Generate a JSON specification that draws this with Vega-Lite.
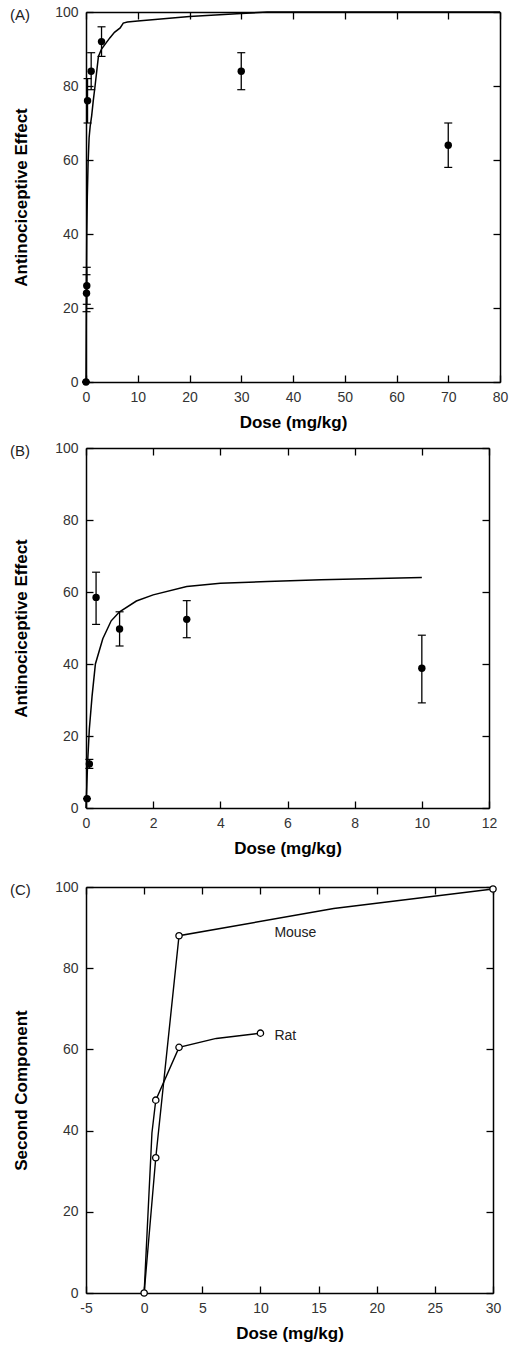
{
  "$schema": "https://vega.github.io/schema/vega-lite/v6.json",
  "background": "white",
  "padding": {"left": 10, "top": 5, "right": 5, "bottom": 5},
  "config": {
    "view": {"stroke": null},
    "axis": {
      "labelFont": "Liberation Sans", "labelFontSize": 14, "labelColor": "#333",
      "titleFont": "Liberation Sans", "titleFontSize": 17, "titleFontWeight": "bold", "titleColor": "black",
      "domainColor": "black", "domainWidth": 1.5, "tickColor": "black", "tickWidth": 1.3, "tickSize": -7,
      "grid": false, "labelPadding": 15, "labelFlush": false, "labelOverlap": false,
      "labelExpr": "'' + datum.value"
    },
    "axisX": {"titlePadding": 10},
    "axisY": {"titlePadding": 24},
    "title": {"font": "Liberation Sans", "fontSize": 15, "fontWeight": "normal", "color": "#222", "anchor": "start", "frame": "group", "orient": "top", "offset": 0, "baseline": "middle", "dx": -76, "dy": 22}
  },
  "datasets": {
    "a_fit": [
      {"dose": 0, "effect": 0}, {"dose": 0.05, "effect": 15}, {"dose": 0.1, "effect": 29}, {"dose": 0.15, "effect": 40},
      {"dose": 0.25, "effect": 50}, {"dose": 0.4, "effect": 59}, {"dose": 0.6, "effect": 66}, {"dose": 0.8, "effect": 69},
      {"dose": 1.1, "effect": 72}, {"dose": 1.4, "effect": 76}, {"dose": 1.75, "effect": 80}, {"dose": 2.4, "effect": 88},
      {"dose": 3, "effect": 90}, {"dose": 4.6, "effect": 93}, {"dose": 5.5, "effect": 94.5}, {"dose": 6.6, "effect": 95.7},
      {"dose": 7.2, "effect": 97}, {"dose": 8, "effect": 97.3}, {"dose": 10, "effect": 97.6}, {"dose": 20, "effect": 98.8},
      {"dose": 30, "effect": 99.6}, {"dose": 35, "effect": 100}, {"dose": 80, "effect": 100}
    ],
    "a_pts": [
      {"dose": 0, "effect": 0, "lo": 0, "hi": 0},
      {"dose": 0.1, "effect": 24, "lo": 19, "hi": 29},
      {"dose": 0.15, "effect": 26, "lo": 21, "hi": 31},
      {"dose": 0.3, "effect": 76, "lo": 70, "hi": 82},
      {"dose": 1, "effect": 84, "lo": 79, "hi": 89},
      {"dose": 3, "effect": 92, "lo": 88, "hi": 96},
      {"dose": 30, "effect": 84, "lo": 79, "hi": 89},
      {"dose": 70, "effect": 64, "lo": 58, "hi": 70}
    ],
    "b_fit": [
      {"dose": 0, "effect": 0}, {"dose": 0.05, "effect": 13}, {"dose": 0.1, "effect": 22}, {"dose": 0.18, "effect": 31},
      {"dose": 0.28, "effect": 40}, {"dose": 0.5, "effect": 47}, {"dose": 0.75, "effect": 52}, {"dose": 1, "effect": 54.5},
      {"dose": 1.5, "effect": 57.5}, {"dose": 2, "effect": 59.2}, {"dose": 3, "effect": 61.5}, {"dose": 4, "effect": 62.4},
      {"dose": 5.4, "effect": 62.9}, {"dose": 7, "effect": 63.4}, {"dose": 10, "effect": 64}
    ],
    "b_pts": [
      {"dose": 0.03, "effect": 2.6, "lo": 2.6, "hi": 2.6},
      {"dose": 0.1, "effect": 12.2, "lo": 11, "hi": 13.5},
      {"dose": 0.3, "effect": 58.5, "lo": 51, "hi": 65.5},
      {"dose": 1, "effect": 49.7, "lo": 45, "hi": 54.5},
      {"dose": 3, "effect": 52.4, "lo": 47.3, "hi": 57.6},
      {"dose": 10, "effect": 38.8, "lo": 29.2, "hi": 48}
    ],
    "c_lines": [
      {"species": "Mouse", "dose": 0, "value": 0}, {"species": "Mouse", "dose": 1, "value": 33.3},
      {"species": "Mouse", "dose": 3, "value": 88}, {"species": "Mouse", "dose": 16.3, "value": 94.7},
      {"species": "Mouse", "dose": 30, "value": 99.5},
      {"species": "Rat", "dose": 0, "value": 0}, {"species": "Rat", "dose": 0.67, "value": 39.4},
      {"species": "Rat", "dose": 1, "value": 47.5}, {"species": "Rat", "dose": 3, "value": 60.5},
      {"species": "Rat", "dose": 6.2, "value": 62.7}, {"species": "Rat", "dose": 10, "value": 64}
    ],
    "c_pts": [
      {"species": "Mouse", "dose": 0, "value": 0}, {"species": "Mouse", "dose": 1, "value": 33.3},
      {"species": "Mouse", "dose": 3, "value": 88}, {"species": "Mouse", "dose": 30, "value": 99.5},
      {"species": "Rat", "dose": 1, "value": 47.5}, {"species": "Rat", "dose": 3, "value": 60.5},
      {"species": "Rat", "dose": 10, "value": 64}
    ],
    "c_labels": [
      {"label": "Mouse", "dose": 11.2, "value": 88.7},
      {"label": "Rat", "dose": 11.2, "value": 63.4}
    ]
  },
  "bounds": "flush",
  "spacing": 66,
  "vconcat": [
    {
      "width": 414, "height": 370,
      "title": {"text": "(A)"},
      "resolve": {"axis": {"x": "independent", "y": "independent"}},
      "layer": [
        {
          "data": {"name": "a_fit"},
          "mark": {"type": "line", "color": "black", "strokeWidth": 1.5},
          "encoding": {
            "x": {"field": "dose", "type": "quantitative", "scale": {"domain": [0, 80], "nice": false},
                  "axis": {"values": [0, 10, 20, 30, 40, 50, 60, 70, 80], "title": "Dose (mg/kg)"}},
            "y": {"field": "effect", "type": "quantitative", "scale": {"domain": [0, 100], "nice": false},
                  "axis": {"values": [0, 20, 40, 60, 80, 100], "title": "Antinociceptive Effect"}}
          }
        },
        {
          "data": {"name": "a_fit"},
          "mark": {"type": "point", "opacity": 0},
          "encoding": {
            "x": {"field": "dose", "type": "quantitative", "axis": {"orient": "top", "labels": false, "title": null, "values": [0, 10, 20, 30, 40, 50, 60, 70, 80]}},
            "y": {"field": "effect", "type": "quantitative", "axis": {"orient": "right", "labels": false, "title": null, "values": [0, 20, 40, 60, 80, 100]}}
          }
        },
        {
          "data": {"name": "a_pts"},
          "mark": {"type": "rule", "color": "black", "strokeWidth": 1.3},
          "encoding": {
            "x": {"field": "dose", "type": "quantitative", "axis": null},
            "y": {"field": "lo", "type": "quantitative", "axis": null},
            "y2": {"field": "hi"}
          }
        },
        {
          "data": {"name": "a_pts"},
          "mark": {"type": "tick", "orient": "horizontal", "color": "black", "size": 8, "thickness": 1.2, "opacity": 1},
          "encoding": {
            "x": {"field": "dose", "type": "quantitative", "axis": null},
            "y": {"field": "lo", "type": "quantitative", "axis": null}
          }
        },
        {
          "data": {"name": "a_pts"},
          "mark": {"type": "tick", "orient": "horizontal", "color": "black", "size": 8, "thickness": 1.2, "opacity": 1},
          "encoding": {
            "x": {"field": "dose", "type": "quantitative", "axis": null},
            "y": {"field": "hi", "type": "quantitative", "axis": null}
          }
        },
        {
          "data": {"name": "a_pts"},
          "mark": {"type": "circle", "color": "black", "size": 55, "opacity": 1},
          "encoding": {
            "x": {"field": "dose", "type": "quantitative", "axis": null},
            "y": {"field": "effect", "type": "quantitative", "axis": null}
          }
        }
      ]
    },
    {
      "bounds": "flush",
      "spacing": 79,
      "vconcat": [
        {
          "width": 403, "height": 360,
          "title": {"text": "(B)"},
          "resolve": {"axis": {"x": "independent", "y": "independent"}},
          "layer": [
            {
              "data": {"name": "b_fit"},
              "mark": {"type": "line", "color": "black", "strokeWidth": 1.5},
              "encoding": {
                "x": {"field": "dose", "type": "quantitative", "scale": {"domain": [0, 12], "nice": false},
                      "axis": {"values": [0, 2, 4, 6, 8, 10, 12], "title": "Dose (mg/kg)"}},
                "y": {"field": "effect", "type": "quantitative", "scale": {"domain": [0, 100], "nice": false},
                      "axis": {"values": [0, 20, 40, 60, 80, 100], "title": "Antinociceptive Effect"}}
              }
            },
            {
              "data": {"name": "b_fit"},
              "mark": {"type": "point", "opacity": 0},
              "encoding": {
                "x": {"field": "dose", "type": "quantitative", "axis": {"orient": "top", "labels": false, "title": null, "values": [0, 2, 4, 6, 8, 10, 12]}},
                "y": {"field": "effect", "type": "quantitative", "axis": {"orient": "right", "labels": false, "title": null, "values": [0, 20, 40, 60, 80, 100]}}
              }
            },
            {
              "data": {"name": "b_pts"},
              "mark": {"type": "rule", "color": "black", "strokeWidth": 1.3},
              "encoding": {
                "x": {"field": "dose", "type": "quantitative", "axis": null},
                "y": {"field": "lo", "type": "quantitative", "axis": null},
                "y2": {"field": "hi"}
              }
            },
            {
              "data": {"name": "b_pts"},
              "mark": {"type": "tick", "orient": "horizontal", "color": "black", "size": 8, "thickness": 1.2, "opacity": 1},
              "encoding": {
                "x": {"field": "dose", "type": "quantitative", "axis": null},
                "y": {"field": "lo", "type": "quantitative", "axis": null}
              }
            },
            {
              "data": {"name": "b_pts"},
              "mark": {"type": "tick", "orient": "horizontal", "color": "black", "size": 8, "thickness": 1.2, "opacity": 1},
              "encoding": {
                "x": {"field": "dose", "type": "quantitative", "axis": null},
                "y": {"field": "hi", "type": "quantitative", "axis": null}
              }
            },
            {
              "data": {"name": "b_pts"},
              "mark": {"type": "circle", "color": "black", "size": 55, "opacity": 1},
              "encoding": {
                "x": {"field": "dose", "type": "quantitative", "axis": null},
                "y": {"field": "effect", "type": "quantitative", "axis": null}
              }
            }
          ]
        },
        {
          "width": 407, "height": 406,
          "title": {"text": "(C)"},
          "resolve": {"axis": {"x": "independent", "y": "independent"}},
          "layer": [
            {
              "data": {"name": "c_lines"},
              "mark": {"type": "line", "color": "black", "strokeWidth": 1.4},
              "encoding": {
                "detail": {"field": "species"},
                "x": {"field": "dose", "type": "quantitative", "scale": {"domain": [-5, 30], "nice": false, "zero": false},
                      "axis": {"values": [-5, 0, 5, 10, 15, 20, 25, 30], "title": "Dose (mg/kg)"}},
                "y": {"field": "value", "type": "quantitative", "scale": {"domain": [0, 100], "nice": false},
                      "axis": {"values": [0, 20, 40, 60, 80, 100], "title": "Second Component"}}
              }
            },
            {
              "data": {"name": "c_lines"},
              "mark": {"type": "point", "opacity": 0},
              "encoding": {
                "x": {"field": "dose", "type": "quantitative", "axis": {"orient": "top", "labels": false, "title": null, "values": [-5, 0, 5, 10, 15, 20, 25, 30]}},
                "y": {"field": "value", "type": "quantitative", "axis": {"orient": "right", "labels": false, "title": null, "values": [0, 20, 40, 60, 80, 100]}}
              }
            },
            {
              "data": {"name": "c_pts"},
              "mark": {"type": "point", "shape": "circle", "filled": true, "fill": "white", "stroke": "black", "strokeWidth": 1.3, "size": 40, "opacity": 1},
              "encoding": {
                "x": {"field": "dose", "type": "quantitative", "axis": null},
                "y": {"field": "value", "type": "quantitative", "axis": null}
              }
            },
            {
              "data": {"name": "c_labels"},
              "mark": {"type": "text", "font": "Liberation Sans", "fontSize": 14, "color": "#222", "align": "left", "baseline": "middle"},
              "encoding": {
                "x": {"field": "dose", "type": "quantitative", "axis": null},
                "y": {"field": "value", "type": "quantitative", "axis": null},
                "text": {"field": "label"}
              }
            }
          ]
        }
      ]
    }
  ]
}
